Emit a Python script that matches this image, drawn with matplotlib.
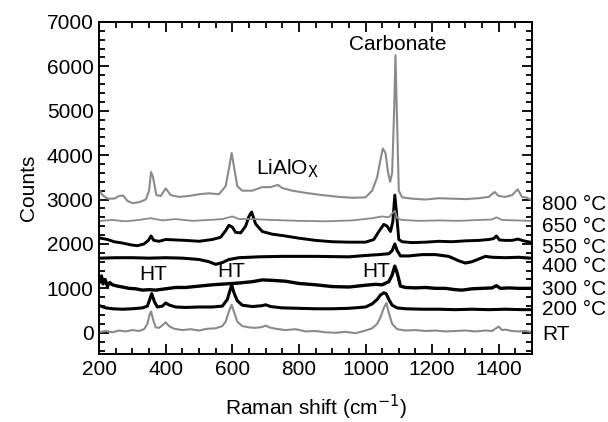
import matplotlib
matplotlib.use("Agg")
import matplotlib.pyplot as plt
from matplotlib.ticker import MultipleLocator

plt.rcParams['font.family'] = ['Liberation Sans', 'DejaVu Sans']

# spectra (Raman shift in cm^-1, counts incl. offset)
rt_x = [205, 220, 240, 260, 280, 300, 320, 335, 345, 352, 356, 362, 370, 380, 392, 400, 410, 425, 450, 475,
        500, 525, 550, 570, 580, 590, 598, 606, 615, 630, 650, 670, 690, 700, 712, 730, 760, 790, 820, 850,
        880, 910, 940, 970, 1000, 1020, 1035, 1045, 1055, 1063, 1070, 1080, 1095, 1120, 1150, 1180, 1210,
        1240, 1270, 1300, 1330, 1360, 1380, 1392, 1400, 1410, 1420, 1440, 1460, 1480, 1495]
rt_y = [20, 40, 10, 50, 30, 60, 40, 80, 200, 420, 480, 300, 120, 110, 180, 235, 150, 90, 60, 80,
        50, 90, 100, 150, 250, 480, 630, 450, 250, 150, 120, 110, 130, 160, 120, 90, 60, 80, 30, 40,
        10, 0, 20, -10, 50, 100, 200, 350, 560, 670, 450, 200, 80, 50, 60, 40, 50,
        30, 40, 50, 30, 50, 40, 100, 140, 60, 70, 40, 30, 40, 20]

t200_x = [205, 220, 240, 270, 300, 330, 345, 352, 358, 366, 375, 390, 400, 412, 430, 460, 500, 540, 570, 585,
          593, 598, 605, 615, 630, 660, 690, 700, 715, 750, 800, 850, 900, 950, 1000, 1020, 1035, 1045,
          1055, 1062, 1070, 1080, 1095, 1120, 1170, 1220, 1270, 1320, 1370, 1420, 1470, 1495]
t200_y = [600, 560, 540, 530, 540, 560, 600, 750, 880, 700, 580, 600, 670, 620, 580, 570, 580, 580, 600, 750,
          950, 1080, 900, 720, 620, 590, 610, 630, 590, 560, 550, 540, 540, 550, 580, 650, 750, 850,
          900, 880, 750, 620, 560, 540, 530, 530, 520, 530, 520, 530, 520, 520]

t300_x = [202, 207, 212, 218, 225, 232, 240, 255, 270, 290, 310, 330, 350, 370, 400, 430, 460, 500, 540, 580,
          620, 660, 690, 720, 760, 800, 850, 900, 950, 1000, 1030, 1050, 1070, 1080, 1088, 1095, 1105, 1120,
          1150, 1180, 1210, 1240, 1270, 1290, 1320, 1350, 1380, 1393, 1405, 1430, 1460, 1495]
t300_y = [1150, 1280, 1100, 1200, 1050, 1130, 1080, 1050, 1030, 1000, 990, 960, 970, 960, 990, 1020, 1020, 1050, 1080, 1100,
          1120, 1150, 1190, 1180, 1160, 1110, 1080, 1040, 1030, 1070, 1090, 1080, 1150, 1300, 1500, 1350, 1050, 1020,
          1010, 1020, 1000, 1000, 970, 960, 990, 1000, 1010, 1060, 1000, 1010, 1000, 1000]

t400_x = [205, 250, 300, 350, 400, 450, 500, 530, 550, 570, 590, 620, 680, 750, 850, 950, 1000, 1040, 1070, 1080,
          1088, 1095, 1105, 1130, 1170, 1210, 1250, 1280, 1300, 1320, 1340, 1360, 1380, 1420, 1460, 1495]
t400_y = [1680, 1690, 1690, 1680, 1690, 1680, 1650, 1600, 1540, 1580, 1650, 1690, 1710, 1720, 1720, 1710, 1740, 1760, 1780, 1850,
          2000, 1850, 1730, 1730, 1760, 1760, 1720, 1620, 1570, 1600, 1660, 1720, 1700, 1690, 1700, 1680]

t550_x = [205, 225, 245, 270, 295, 315, 335, 348, 356, 364, 380, 400, 430, 460, 500, 540, 565, 580, 590, 600,
          610, 625, 640, 650, 658, 670, 690, 720, 750, 800, 850, 900, 950, 1000, 1025, 1040, 1055, 1065, 1075,
          1082, 1088, 1093, 1100, 1110, 1140, 1180, 1220, 1260, 1300, 1340, 1370, 1385, 1393, 1402, 1420, 1440,
          1458, 1475, 1495]
t550_y = [2130, 2100, 2050, 2020, 1980, 1960, 2000, 2080, 2180, 2080, 2060, 2100, 2090, 2080, 2060, 2100, 2150, 2300, 2420, 2380,
          2260, 2250, 2400, 2620, 2720, 2450, 2280, 2220, 2190, 2130, 2080, 2050, 2040, 2040, 2100, 2280, 2440, 2400, 2280,
          2500, 3100, 2700, 2100, 2050, 2030, 2040, 2060, 2050, 2070, 2080, 2100, 2120, 2180, 2090, 2080, 2080,
          2110, 2070, 2040]

t650_x = [205, 240, 280, 320, 355, 390, 430, 480, 530, 570, 600, 620, 660, 720, 800, 880, 960, 1020, 1050, 1070,
          1082, 1088, 1095, 1110, 1160, 1220, 1280, 1340, 1380, 1393, 1410, 1450, 1495]
t650_y = [2520, 2540, 2510, 2540, 2580, 2530, 2560, 2520, 2540, 2560, 2620, 2560, 2560, 2540, 2520, 2510, 2530, 2580, 2620, 2600,
          2700, 2750, 2580, 2540, 2520, 2530, 2520, 2540, 2550, 2600, 2540, 2530, 2520]

t800_x = [202, 210, 225, 245, 260, 272, 285, 300, 320, 340, 350, 356, 362, 372, 385, 400, 415, 440, 470, 500,
          530, 560, 580, 590, 598, 606, 615, 630, 660, 690, 715, 737, 750, 780, 820, 870, 920, 960, 1000, 1020,
          1035, 1045, 1052, 1060, 1068, 1074, 1080, 1086, 1090, 1094, 1100, 1110, 1140, 1180, 1220, 1260, 1300,
          1340, 1370, 1388, 1400, 1420, 1440, 1457, 1470, 1485, 1495]
t800_y = [3200, 3100, 3020, 3020, 3080, 3090, 2970, 2920, 2940, 3000, 3200, 3620, 3500, 3100, 3080, 3250, 3100, 3060, 3080, 3120,
          3140, 3120, 3300, 3700, 4050, 3700, 3300, 3200, 3200, 3280, 3280, 3330, 3260, 3200, 3150, 3100, 3060, 3040, 3050, 3200,
          3500, 3900, 4150, 4050, 3600, 3400, 3600, 5000, 6250, 5000, 3200, 3050, 3020, 3000, 3030, 3020, 3010,
          3030, 3060, 3170, 3080, 3060, 3100, 3230, 3060, 3040, 3000]

labels = ['800 °C', '650 °C', '550 °C', '400 °C', '300 °C', '200 °C', 'RT']
label_y = [2890, 2390, 1920, 1490, 970, 520, -45]

gray = '#8a8a8a'
fs = 15
fig = plt.figure(figsize=(6.08, 4.22), dpi=100)
ax = fig.add_axes([0.163, 0.161, 0.712, 0.787])

ax.plot(rt_x, rt_y, color=gray, lw=1.5)
ax.plot(t200_x, t200_y, color='black', lw=2.2)
ax.plot(t300_x, t300_y, color='black', lw=2.4)
ax.plot(t400_x, t400_y, color='black', lw=2.2)
ax.plot(t550_x, t550_y, color='black', lw=2.1)
ax.plot(t650_x, t650_y, color=gray, lw=1.3)
ax.plot(t800_x, t800_y, color=gray, lw=1.5)

ax.set_xlim(200, 1500)
ax.set_ylim(-480, 7000)
ax.xaxis.set_major_locator(MultipleLocator(200))
ax.xaxis.set_minor_locator(MultipleLocator(50))
ax.yaxis.set_major_locator(MultipleLocator(1000))
ax.yaxis.set_minor_locator(MultipleLocator(200))
ax.tick_params(which='both', direction='in', top=True, right=True, width=1.3, labelsize=fs)
ax.tick_params(which='major', length=7, pad=4)
ax.tick_params(which='minor', length=4.5)
for s in ax.spines.values():
    s.set_linewidth(1.4)

ax.set_xlabel('Raman shift (cm$^{-1}$)', fontsize=fs, labelpad=10)
ax.set_ylabel('Counts', fontsize=fs, labelpad=6)

ax.text(1098, 6500, 'Carbonate', fontsize=fs, ha='center', va='center')
ax.text(672, 3430, 'LiAlO$_\\mathrm{X}$', fontsize=fs, ha='left', va='bottom')
ax.text(362, 1310, 'HT', fontsize=fs, ha='center', va='center')
ax.text(597, 1370, 'HT', fontsize=fs, ha='center', va='center')
ax.text(1033, 1370, 'HT', fontsize=fs, ha='center', va='center')

for lab, yv in zip(labels, label_y):
    ax.text(1530, yv, lab, fontsize=fs, ha='left', va='center', clip_on=False)

fig.savefig('out.png', dpi=100)
